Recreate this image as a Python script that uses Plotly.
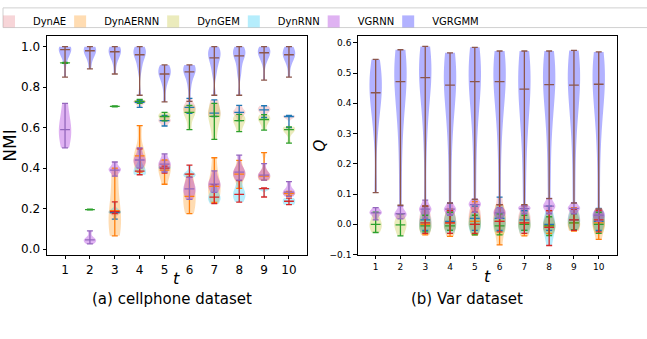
import plotly.graph_objects as go
import numpy as np

t_vals = list(range(1, 11))
series_names = ["DynAE", "DynAERNN", "DynGEM", "DynRNN", "VGRNN", "VGRGMM"]
fill_colors = ["rgba(228,115,125,0.3)", "rgba(255,140,0,0.3)", "rgba(188,189,34,0.3)",
               "rgba(10,195,245,0.3)", "rgba(148,0,211,0.3)", "rgba(0,0,255,0.3)"]
line_colors = ["#1f77b4", "#ff7f0e", "#2ca02c", "#d62728", "#9467bd", "#8c564b"]

# ---- (a) cellphone dataset, NMI samples per t ----
cell_DynAE = [None, None,
              [0.148, 0.175, 0.18, 0.185, 0.19],
              [0.70, 0.72, 0.725, 0.73, 0.735],
              [0.608, 0.63, 0.635, 0.64, 0.66],
              [0.67, 0.69, 0.70, 0.71, 0.745],
              [0.655, 0.668, 0.672, 0.72, 0.737],
              [0.635, 0.67, 0.675, 0.68, 0.71],
              [0.65, 0.68, 0.688, 0.695, 0.708],
              [0.60, 0.652, 0.655, 0.658, 0.66]]
cell_DynAERNN = [None, None,
                 [0.065, 0.10, 0.13, 0.19, 0.20, 0.38, 0.40],
                 [0.38, 0.43, 0.46, 0.47, 0.61],
                 [0.32, 0.37, 0.39, 0.41, 0.44],
                 [0.175, 0.22, 0.26, 0.30, 0.37],
                 [0.23, 0.28, 0.31, 0.34, 0.451],
                 [0.30, 0.36, 0.37, 0.38, 0.438],
                 [0.34, 0.355, 0.36, 0.37, 0.476],
                 [0.265, 0.27, 0.275, 0.28, 0.285]]
cell_DynGEM = [[0.918, 0.92, 0.92, 0.92, 0.922],
               [0.193, 0.195, 0.195, 0.195, 0.197],
               [0.703, 0.705, 0.705, 0.705, 0.707],
               [0.72, 0.728, 0.73, 0.732, 0.74],
               [0.633, 0.65, 0.655, 0.665, 0.675],
               [0.59, 0.66, 0.675, 0.69, 0.71],
               [0.542, 0.63, 0.656, 0.68, 0.72],
               [0.58, 0.62, 0.635, 0.645, 0.665],
               [0.588, 0.63, 0.64, 0.65, 0.664],
               [0.523, 0.58, 0.59, 0.595, 0.604]]
cell_DynRNN = [None, None,
               [0.175, 0.18, 0.185, 0.19, 0.233],
               [0.367, 0.375, 0.385, 0.40, 0.495],
               [0.375, 0.395, 0.40, 0.405, 0.41],
               [0.355, 0.365, 0.37, 0.375, 0.415],
               [0.224, 0.245, 0.256, 0.27, 0.318],
               [0.232, 0.26, 0.27, 0.29, 0.338],
               [0.257, 0.295, 0.298, 0.30, 0.302],
               [0.219, 0.224, 0.236, 0.245, 0.252]]
cell_VGRNN = [[0.50, 0.56, 0.59, 0.63, 0.72],
              [0.025, 0.04, 0.045, 0.05, 0.09],
              [0.36, 0.39, 0.39, 0.40, 0.43],
              [0.40, 0.43, 0.44, 0.45, 0.50],
              [0.38, 0.41, 0.42, 0.43, 0.47],
              [0.245, 0.28, 0.297, 0.31, 0.354],
              [0.28, 0.31, 0.321, 0.335, 0.386],
              [0.34, 0.37, 0.38, 0.39, 0.464],
              [0.34, 0.36, 0.365, 0.375, 0.422],
              [0.26, 0.275, 0.281, 0.29, 0.333]]
cell_VGRGMM = [[0.85, 0.93, 0.96, 0.98, 0.985, 0.99, 0.995, 1.0, 1.0],
               [0.89, 0.94, 0.965, 0.975, 0.98, 0.985, 0.99, 1.0, 1.0],
               [0.865, 0.93, 0.95, 0.97, 0.975, 0.98, 0.99, 1.0, 1.0],
               [0.76, 0.88, 0.92, 0.95, 0.96, 0.97, 0.985, 0.995, 1.0],
               [0.727, 0.80, 0.84, 0.86, 0.865, 0.875, 0.89, 0.905, 0.91],
               [0.73, 0.80, 0.84, 0.87, 0.875, 0.885, 0.895, 0.905, 0.91],
               [0.76, 0.86, 0.90, 0.93, 0.945, 0.96, 0.975, 0.99, 1.0],
               [0.76, 0.86, 0.90, 0.94, 0.955, 0.965, 0.98, 0.99, 1.0],
               [0.835, 0.92, 0.95, 0.965, 0.97, 0.975, 0.985, 0.995, 1.0],
               [0.85, 0.92, 0.94, 0.955, 0.96, 0.97, 0.98, 0.99, 1.0]]

# ---- (b) Var dataset, Q samples per t ----
var_DynAE = [None, None,
             [-0.02, 0.0, 0.015, 0.03, 0.06],
             [-0.02, 0.0, 0.01, 0.03, 0.07],
             [-0.02, 0.005, 0.02, 0.04, 0.06],
             [-0.02, 0.005, 0.02, 0.04, 0.09],
             [-0.02, 0.0, 0.015, 0.03, 0.045],
             [-0.02, -0.01, 0.0, 0.02, 0.06],
             [-0.018, 0.0, 0.015, 0.03, 0.05],
             [-0.02, 0.0, 0.01, 0.03, 0.053]]
var_DynAERNN = [None, None,
                [-0.035, -0.01, 0.0, 0.02, 0.06],
                [-0.04, -0.01, 0.005, 0.02, 0.05],
                [-0.035, 0.0, 0.01, 0.03, 0.075],
                [-0.068, -0.01, 0.01, 0.03, 0.065],
                [-0.038, -0.01, 0.005, 0.02, 0.065],
                [-0.03, -0.015, -0.005, 0.01, 0.045],
                [-0.022, -0.01, 0.005, 0.02, 0.055],
                [-0.05, -0.01, 0.005, 0.02, 0.05]]
var_DynGEM = [[-0.027, -0.01, 0.0, 0.01, 0.04],
              [-0.038, -0.01, -0.002, 0.01, 0.035],
              [-0.025, -0.015, -0.005, 0.005, 0.03],
              [-0.02, -0.01, -0.005, 0.005, 0.04],
              [-0.035, -0.01, 0.0, 0.01, 0.03],
              [-0.035, -0.015, -0.005, 0.01, 0.035],
              [-0.02, -0.01, 0.0, 0.01, 0.03],
              [-0.037, -0.015, -0.005, 0.005, 0.025],
              [-0.018, -0.005, 0.005, 0.015, 0.035],
              [-0.03, -0.01, 0.0, 0.015, 0.04]]
var_DynRNN = [None, None,
              [-0.03, -0.01, 0.005, 0.02, 0.06],
              [-0.03, -0.01, 0.005, 0.02, 0.045],
              [-0.03, -0.01, 0.0, 0.02, 0.04],
              [-0.025, -0.005, 0.01, 0.03, 0.065],
              [-0.03, -0.01, 0.005, 0.02, 0.062],
              [-0.07, -0.02, -0.01, 0.01, 0.045],
              [-0.02, 0.0, 0.015, 0.025, 0.05],
              [-0.025, 0.0, 0.015, 0.03, 0.045]]
var_VGRNN = [[0.015, 0.035, 0.038, 0.042, 0.055],
             [0.018, 0.03, 0.035, 0.04, 0.06],
             [0.02, 0.045, 0.05, 0.055, 0.08],
             [0.03, 0.045, 0.05, 0.055, 0.072],
             [0.04, 0.06, 0.065, 0.07, 0.083],
             [0.02, 0.033, 0.038, 0.045, 0.055],
             [0.035, 0.048, 0.052, 0.056, 0.062],
             [0.035, 0.055, 0.06, 0.065, 0.086],
             [0.035, 0.05, 0.053, 0.058, 0.072],
             [0.01, 0.025, 0.03, 0.038, 0.05]]
var_VGRGMM = [[0.105, 0.30, 0.38, 0.42, 0.435, 0.46, 0.49, 0.52, 0.545],
              [0.063, 0.25, 0.38, 0.43, 0.472, 0.50, 0.53, 0.56, 0.577],
              [0.06, 0.28, 0.40, 0.45, 0.485, 0.51, 0.54, 0.57, 0.588],
              [0.07, 0.25, 0.37, 0.42, 0.46, 0.49, 0.52, 0.55, 0.567],
              [0.082, 0.26, 0.38, 0.43, 0.472, 0.50, 0.53, 0.56, 0.585],
              [0.065, 0.26, 0.38, 0.43, 0.472, 0.50, 0.53, 0.555, 0.573],
              [0.065, 0.24, 0.35, 0.41, 0.447, 0.48, 0.52, 0.55, 0.573],
              [0.085, 0.25, 0.37, 0.42, 0.462, 0.49, 0.52, 0.55, 0.573],
              [0.07, 0.25, 0.37, 0.42, 0.46, 0.49, 0.52, 0.55, 0.575],
              [0.05, 0.25, 0.37, 0.42, 0.463, 0.49, 0.52, 0.55, 0.57]]

cell_data = [cell_DynAE, cell_DynAERNN, cell_DynGEM, cell_DynRNN, cell_VGRNN, cell_VGRGMM]
var_data = [var_DynAE, var_DynAERNN, var_DynGEM, var_DynRNN, var_VGRNN, var_VGRGMM]

FONT = "DejaVu Sans"
fig = go.Figure()


def add_panel(data, xa, ya, panel, show_legend, bw_last=None):
    for i, name in enumerate(series_names):
        tx, med, lo, hi = [], [], [], []
        first = True
        for t, s in zip(t_vals, data[i]):
            if s is None:
                continue
            extra = {}
            if bw_last is not None and i == len(series_names) - 1:
                extra["bandwidth"] = bw_last
            # one violin per trace so each body is scaled to its own maximum width
            fig.add_trace(go.Violin(
                x=[t] * len(s), y=list(s), name=name, legendgroup=name,
                showlegend=bool(show_legend and first), scalegroup=f"{panel}_{name}_{t}",
                xaxis=xa, yaxis=ya, width=0.5, scalemode="width", spanmode="hard",
                points=False, fillcolor=fill_colors[i],
                line=dict(width=0, color=fill_colors[i]),
                box_visible=False, meanline_visible=False, hoverinfo="skip", **extra))
            first = False
            tx.append(t)
            m = float(np.median(s))
            med.append(m)
            lo.append(m - min(s))
            hi.append(max(s) - m)
        fig.add_trace(go.Scatter(
            x=tx, y=med, mode="markers", xaxis=xa, yaxis=ya, showlegend=False,
            legendgroup=name, hoverinfo="skip",
            marker=dict(symbol="line-ew", size=7, line=dict(width=1.3, color=line_colors[i])),
            error_y=dict(type="data", symmetric=False, array=hi, arrayminus=lo,
                         width=3, thickness=1.3, color=line_colors[i])))


add_panel(cell_data, "x", "y", "a", True, bw_last=0.03)
add_panel(var_data, "x2", "y2", "b", False)

H = 339.0
W = 647.0
ydom = [1 - 258.7 / H, 1 - 36.7 / H]
axis_common = dict(showline=True, mirror=True, linecolor="black", linewidth=1,
                   ticks="outside", ticklen=3.5, tickwidth=1, tickcolor="black",
                   showgrid=False, zeroline=False)

fig.update_layout(
    width=647, height=339, margin=dict(l=0, r=0, t=0, b=0),
    paper_bgcolor="white", plot_bgcolor="white",
    font=dict(family=FONT, color="black"),
    violinmode="overlay",
    xaxis=dict(domain=[47 / W, 307 / W], range=[0.275, 10.725], tickvals=t_vals,
               tickfont=dict(size=12), **axis_common),
    yaxis=dict(domain=ydom, range=[-0.029, 1.052], tickvals=[0, 0.2, 0.4, 0.6, 0.8, 1.0],
               tickformat=".1f", tickfont=dict(size=12),
               title=dict(text="NMI", font=dict(size=17), standoff=4), **axis_common),
    xaxis2=dict(domain=[357.7 / W, 616.7 / W], range=[0.275, 10.725], tickvals=t_vals,
                tickfont=dict(size=9), anchor="y2", **axis_common),
    yaxis2=dict(domain=ydom, range=[-0.101, 0.622], anchor="x2",
                tickvals=[-0.1, 0, 0.1, 0.2, 0.3, 0.4, 0.5, 0.6], tickformat=".1f",
                tickfont=dict(size=9),
                title=dict(text="<i>Q</i>", font=dict(size=15), standoff=0), **axis_common),
    legend=dict(orientation="h", x=0, y=1 - 7 / H, xanchor="left", yanchor="top",
                font=dict(size=10, family=FONT), bgcolor="rgba(0,0,0,0)", borderwidth=0,
                traceorder="normal", indentation=-15, itemwidth=38),
    shapes=[dict(type="rect", xref="paper", yref="paper", x0=3 / W, x1=1.02,
                 y0=1 - 28 / H, y1=1 - 8 / H, line=dict(color="#d0d0d0", width=1),
                 fillcolor="rgba(255,255,255,0)", layer="below")],
    annotations=[
        dict(text="<i>t</i>", x=176 / W, y=1 - 283 / H, xref="paper", yref="paper",
             showarrow=False, font=dict(size=16, family=FONT), xanchor="center", yanchor="middle"),
        dict(text="<i>t</i>", x=487 / W, y=1 - 281 / H, xref="paper", yref="paper",
             showarrow=False, font=dict(size=16, family=FONT), xanchor="center", yanchor="middle"),
        dict(text="(a) cellphone dataset", x=172 / W, y=1 - 303 / H, xref="paper", yref="paper",
             showarrow=False, font=dict(size=15, family=FONT), xanchor="center", yanchor="middle"),
        dict(text="(b) Var dataset", x=467 / W, y=1 - 303 / H, xref="paper", yref="paper",
             showarrow=False, font=dict(size=15, family=FONT), xanchor="center", yanchor="middle"),
    ],
)

fig.write_html("out.html")
